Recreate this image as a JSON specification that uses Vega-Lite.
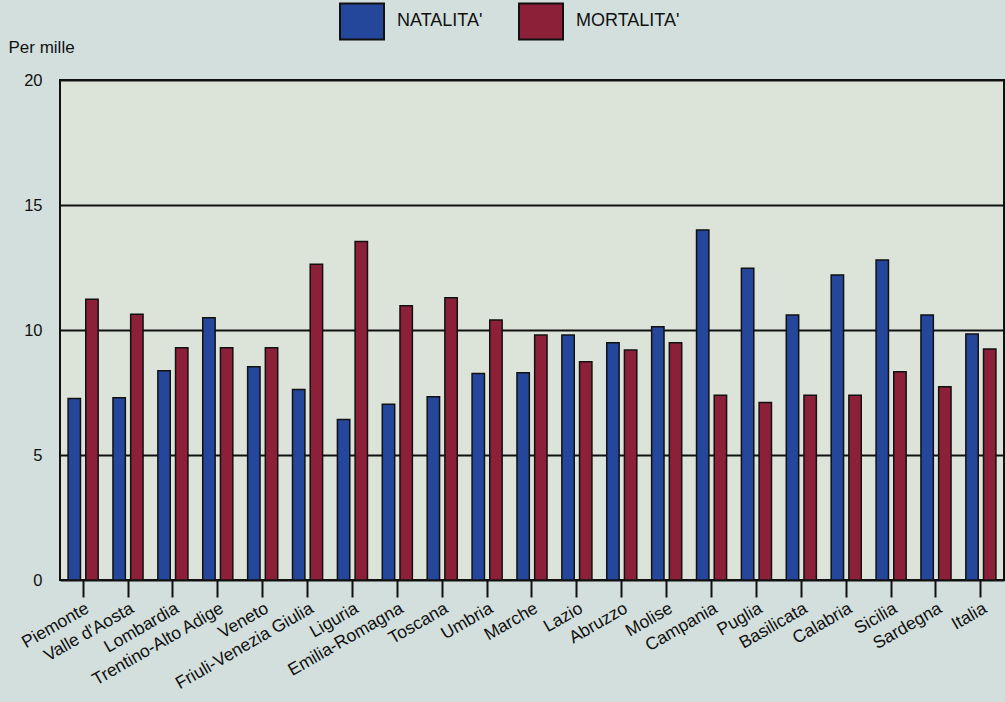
{
  "$schema": "https://vega.github.io/schema/vega-lite/v6.json",
  "width": 944,
  "height": 500,
  "autosize": "none",
  "padding": {"left": 60, "top": 80, "right": 1, "bottom": 122},
  "background": "#d3dfdc",
  "config": {
    "font": "Liberation Sans",
    "view": {"fill": "#dce4da", "stroke": "#111111", "strokeWidth": 2}
  },
  "data": {
    "values": [
      {"regione": "Piemonte", "tipo": "NATALITA'", "valore": 7.26},
      {"regione": "Piemonte", "tipo": "MORTALITA'", "valore": 11.23},
      {"regione": "Valle d'Aosta", "tipo": "NATALITA'", "valore": 7.29},
      {"regione": "Valle d'Aosta", "tipo": "MORTALITA'", "valore": 10.63},
      {"regione": "Lombardia", "tipo": "NATALITA'", "valore": 8.37},
      {"regione": "Lombardia", "tipo": "MORTALITA'", "valore": 9.29},
      {"regione": "Trentino-Alto Adige", "tipo": "NATALITA'", "valore": 10.49},
      {"regione": "Trentino-Alto Adige", "tipo": "MORTALITA'", "valore": 9.29},
      {"regione": "Veneto", "tipo": "NATALITA'", "valore": 8.53},
      {"regione": "Veneto", "tipo": "MORTALITA'", "valore": 9.29},
      {"regione": "Friuli-Venezia Giulia", "tipo": "NATALITA'", "valore": 7.62},
      {"regione": "Friuli-Venezia Giulia", "tipo": "MORTALITA'", "valore": 12.63},
      {"regione": "Liguria", "tipo": "NATALITA'", "valore": 6.42},
      {"regione": "Liguria", "tipo": "MORTALITA'", "valore": 13.54},
      {"regione": "Emilia-Romagna", "tipo": "NATALITA'", "valore": 7.03},
      {"regione": "Emilia-Romagna", "tipo": "MORTALITA'", "valore": 10.97},
      {"regione": "Toscana", "tipo": "NATALITA'", "valore": 7.33},
      {"regione": "Toscana", "tipo": "MORTALITA'", "valore": 11.29},
      {"regione": "Umbria", "tipo": "NATALITA'", "valore": 8.26},
      {"regione": "Umbria", "tipo": "MORTALITA'", "valore": 10.4},
      {"regione": "Marche", "tipo": "NATALITA'", "valore": 8.29},
      {"regione": "Marche", "tipo": "MORTALITA'", "valore": 9.8},
      {"regione": "Lazio", "tipo": "NATALITA'", "valore": 9.8},
      {"regione": "Lazio", "tipo": "MORTALITA'", "valore": 8.73},
      {"regione": "Abruzzo", "tipo": "NATALITA'", "valore": 9.49},
      {"regione": "Abruzzo", "tipo": "MORTALITA'", "valore": 9.2},
      {"regione": "Molise", "tipo": "NATALITA'", "valore": 10.13},
      {"regione": "Molise", "tipo": "MORTALITA'", "valore": 9.49},
      {"regione": "Campania", "tipo": "NATALITA'", "valore": 14.0},
      {"regione": "Campania", "tipo": "MORTALITA'", "valore": 7.39},
      {"regione": "Puglia", "tipo": "NATALITA'", "valore": 12.47},
      {"regione": "Puglia", "tipo": "MORTALITA'", "valore": 7.1},
      {"regione": "Basilicata", "tipo": "NATALITA'", "valore": 10.6},
      {"regione": "Basilicata", "tipo": "MORTALITA'", "valore": 7.39},
      {"regione": "Calabria", "tipo": "NATALITA'", "valore": 12.2},
      {"regione": "Calabria", "tipo": "MORTALITA'", "valore": 7.39},
      {"regione": "Sicilia", "tipo": "NATALITA'", "valore": 12.8},
      {"regione": "Sicilia", "tipo": "MORTALITA'", "valore": 8.33},
      {"regione": "Sardegna", "tipo": "NATALITA'", "valore": 10.6},
      {"regione": "Sardegna", "tipo": "MORTALITA'", "valore": 7.73},
      {"regione": "Italia", "tipo": "NATALITA'", "valore": 9.84},
      {"regione": "Italia", "tipo": "MORTALITA'", "valore": 9.24}
    ]
  },
  "mark": {"type": "bar", "stroke": "#111111", "strokeWidth": 1.5},
  "encoding": {
    "x": {
      "field": "regione",
      "type": "nominal",
      "sort": null,
      "scale": {"paddingInner": 0.33, "paddingOuter": 0.18},
      "axis": {
        "title": null,
        "domain": false,
        "ticks": true,
        "tickSize": 17,
        "tickWidth": 2,
        "tickColor": "#111111",
        "labelAngle": -30,
        "labelFontSize": 17.5,
        "labelColor": "#111111",
        "labelPadding": 2,
        "labelOverlap": false
      }
    },
    "xOffset": {
      "field": "tipo",
      "type": "nominal",
      "sort": ["NATALITA'", "MORTALITA'"],
      "scale": {"paddingInner": 0.3}
    },
    "y": {
      "field": "valore",
      "type": "quantitative",
      "scale": {"domain": [0, 20]},
      "axis": {
        "values": [0, 5, 10, 15, 20],
        "title": "Per mille",
        "titleAngle": 0,
        "titleAlign": "left",
        "titleBaseline": "middle",
        "titleX": -52,
        "titleY": -33,
        "titleFontSize": 17,
        "titleFontWeight": "normal",
        "titleColor": "#111111",
        "domain": false,
        "ticks": false,
        "labelPadding": 18,
        "labelFontSize": 16.5,
        "labelColor": "#111111",
        "grid": true,
        "gridColor": "#111111",
        "gridWidth": 2,
        "gridOpacity": 1
      }
    },
    "color": {
      "field": "tipo",
      "type": "nominal",
      "sort": ["NATALITA'", "MORTALITA'"],
      "scale": {"domain": ["NATALITA'", "MORTALITA'"], "range": ["#24479b", "#8d2039"]},
      "legend": {
        "title": null,
        "orient": "none",
        "direction": "horizontal",
        "legendX": 279,
        "legendY": -82,
        "symbolType": "M-1,-0.82H1V0.82H-1Z",
        "symbolSize": 1936,
        "symbolStrokeColor": "#111111",
        "symbolStrokeWidth": 2,
        "symbolOpacity": 1,
        "labelFontSize": 18,
        "labelColor": "#111111",
        "labelOffset": 12,
        "columnPadding": 32
      }
    }
  }
}
